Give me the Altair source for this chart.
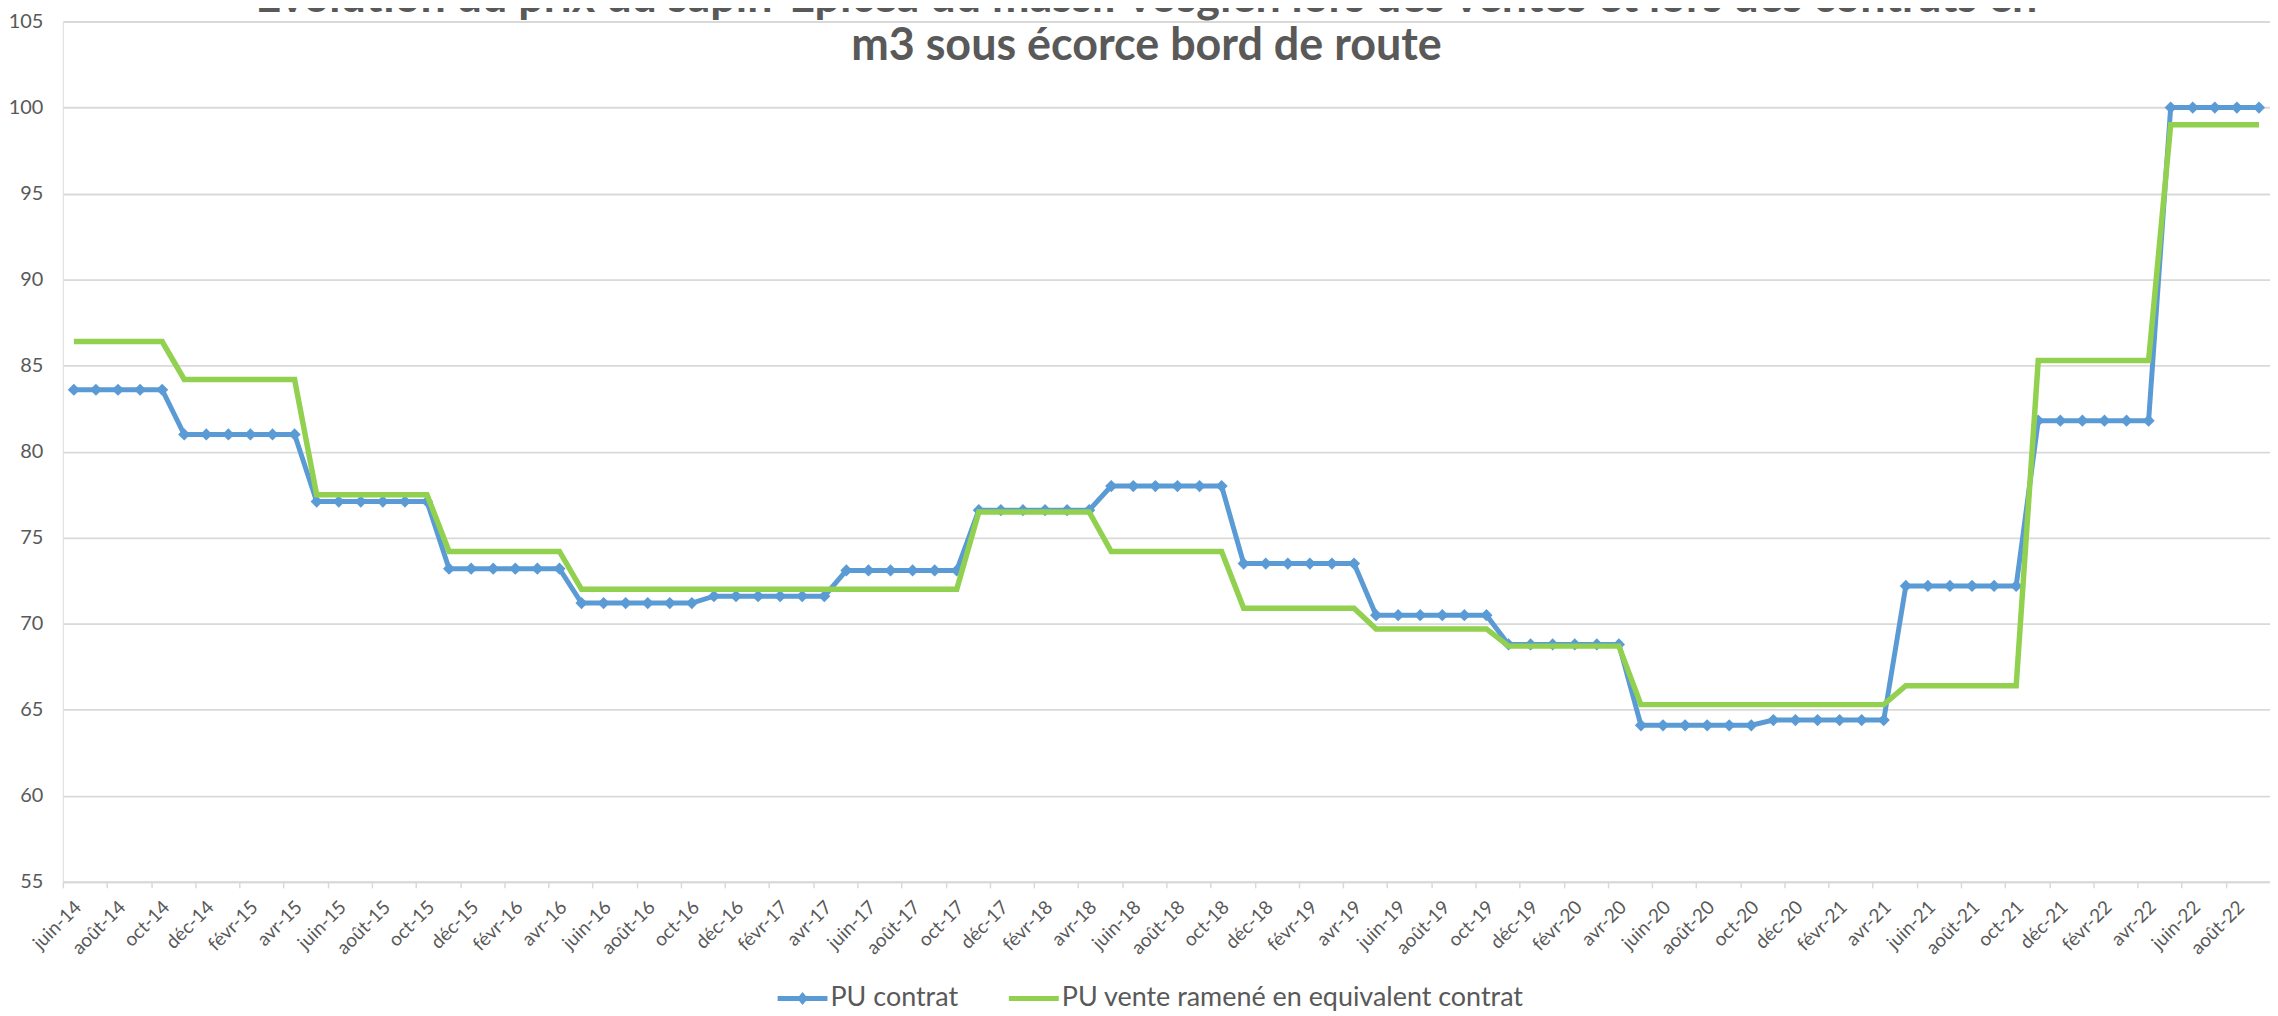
import altair as alt
import pandas as pd

# ---- categories (monthly, juin-14 .. sept-22) ----
MOIS = ["janv", "févr", "mars", "avr", "mai", "juin", "juil", "août", "sept", "oct", "nov", "déc"]
mois = [f"{MOIS[(5 + k) % 12]}-{14 + (5 + k) // 12}" for k in range(100)]
mois_labels = mois[::2]

SERIES = ["PU contrat", "PU vente ramené en equivalent contrat"]

pu_contrat = [
    83.6, 83.6, 83.6, 83.6, 83.6,
    81.0, 81.0, 81.0, 81.0, 81.0, 81.0,
    77.1, 77.1, 77.1, 77.1, 77.1, 77.1,
    73.2, 73.2, 73.2, 73.2, 73.2, 73.2,
    71.2, 71.2, 71.2, 71.2, 71.2, 71.2,
    71.6, 71.6, 71.6, 71.6, 71.6, 71.6,
    73.1, 73.1, 73.1, 73.1, 73.1, 73.1,
    76.6, 76.6, 76.6, 76.6, 76.6, 76.6,
    78.0, 78.0, 78.0, 78.0, 78.0, 78.0,
    73.5, 73.5, 73.5, 73.5, 73.5, 73.5,
    70.5, 70.5, 70.5, 70.5, 70.5, 70.5,
    68.8, 68.8, 68.8, 68.8, 68.8, 68.8,
    64.1, 64.1, 64.1, 64.1, 64.1, 64.1,
    64.4, 64.4, 64.4, 64.4, 64.4, 64.4,
    72.2, 72.2, 72.2, 72.2, 72.2, 72.2,
    81.8, 81.8, 81.8, 81.8, 81.8, 81.8,
    100.0, 100.0, 100.0, 100.0, 100.0,
]

pu_vente = [
    86.4, 86.4, 86.4, 86.4, 86.4,
    84.2, 84.2, 84.2, 84.2, 84.2, 84.2,
    77.5, 77.5, 77.5, 77.5, 77.5, 77.5,
    74.2, 74.2, 74.2, 74.2, 74.2, 74.2,
    72.0, 72.0, 72.0, 72.0, 72.0, 72.0,
    72.0, 72.0, 72.0, 72.0, 72.0, 72.0,
    72.0, 72.0, 72.0, 72.0, 72.0, 72.0,
    76.5, 76.5, 76.5, 76.5, 76.5, 76.5,
    74.2, 74.2, 74.2, 74.2, 74.2, 74.2,
    70.9, 70.9, 70.9, 70.9, 70.9, 70.9,
    69.7, 69.7, 69.7, 69.7, 69.7, 69.7,
    68.7, 68.7, 68.7, 68.7, 68.7, 68.7,
    65.3, 65.3, 65.3, 65.3, 65.3, 65.3,
    65.3, 65.3, 65.3, 65.3, 65.3, 65.3,
    66.4, 66.4, 66.4, 66.4, 66.4, 66.4,
    85.3, 85.3, 85.3, 85.3, 85.3, 85.3,
    99.0, 99.0, 99.0, 99.0, 99.0,
]

y_ticks = [55, 60, 65, 70, 75, 80, 85, 90, 95, 100, 105]

TITLE = [
    "Evolution du prix du sapin-Epicéa du massif vosgien lors des ventes et lors des contrats en",
    "m3 sous écorce bord de route",
]

BLUE = "#5B9BD5"
GREEN = "#92D050"
GREY = "#595959"
GRID = "#D9D9D9"

W = 2214
H = 863

df = pd.DataFrame({
    "mois": mois + mois,
    "serie": [SERIES[0]] * len(mois) + [SERIES[1]] * len(mois),
    "valeur": pu_contrat + pu_vente,
})

x = alt.X(
    "mois:N",
    sort=mois,
    scale=alt.Scale(type="point", domain=mois, padding=0.5),
    axis=alt.Axis(
        values=mois_labels, title=None, grid=False,
        labelAngle=-45, labelAlign="right", labelBaseline="middle",
        labelOffset=15, labelPadding=16, tickOffset=-W / 200,
        tickSize=6, tickColor=GRID, tickWidth=1.5,
        domainColor=GRID, domainWidth=2,
        labelFont="Lato", labelFontSize=19, labelColor=GREY,
    ),
)
y = alt.Y(
    "valeur:Q",
    scale=alt.Scale(domain=[55, 105], nice=False, zero=False),
    axis=alt.Axis(
        values=y_ticks, title=None, domain=False, ticks=False,
        grid=True, gridColor=GRID, gridWidth=1.8,
        labelFont="Lato", labelFontSize=20, labelColor=GREY, labelPadding=20,
    ),
)

base = alt.Chart(df)

blue_line = base.transform_filter(alt.datum.serie == SERIES[0]).mark_line(
    color=BLUE, strokeWidth=5
).encode(x=x, y=y)

blue_pts = base.transform_filter(alt.datum.serie == SERIES[0]).mark_point(
    shape="diamond", filled=True, size=150, color=BLUE, opacity=1
).encode(x=x, y=y)

green_line = base.transform_filter(alt.datum.serie == SERIES[1]).mark_line(
    color=GREEN, strokeWidth=5.5
).encode(x=x, y=y)

PATH_BLUE = "M-1,-0.1L1,-0.1L1,0.1L-1,0.1Z M0,-0.26L0.22,0L0,0.26L-0.22,0Z"
PATH_GREEN = "M-1,-0.1L1,-0.1L1,0.1L-1,0.1Z"

leg = dict(
    title=None, orient="none", legendX=717, legendY=955, direction="horizontal",
    labelFont="Lato", labelFontSize=27, labelColor=GREY, labelLimit=900,
    symbolSize=2500, symbolOpacity=1, symbolStrokeWidth=0,
    columnPadding=50, labelOffset=3, padding=0,
)

legend_layer = base.mark_point(opacity=0, filled=True).encode(
    x=x, y=y,
    color=alt.Color("serie:N", scale=alt.Scale(domain=SERIES, range=[BLUE, GREEN]),
                    legend=alt.Legend(**leg)),
    shape=alt.Shape("serie:N", scale=alt.Scale(domain=SERIES, range=[PATH_BLUE, PATH_GREEN]),
                    legend=alt.Legend(**leg)),
)

chart = alt.layer(blue_line, blue_pts, green_line, legend_layer).properties(
    width=W,
    height=H,
    padding={"left": 55, "top": 12, "right": 0, "bottom": 133},
    autosize=alt.AutoSizeParams(type="none"),
    title=alt.TitleParams(
        text=TITLE, font="Lato", fontSize=45, fontWeight="bold", color=GREY,
        anchor="middle", frame="group", lineHeight=49, offset=0, dx=-20, dy=58,
    ),
).configure_view(stroke=None).configure(background="white")

chart.save("out.html", embed_options={"renderer": "svg", "actions": False})
